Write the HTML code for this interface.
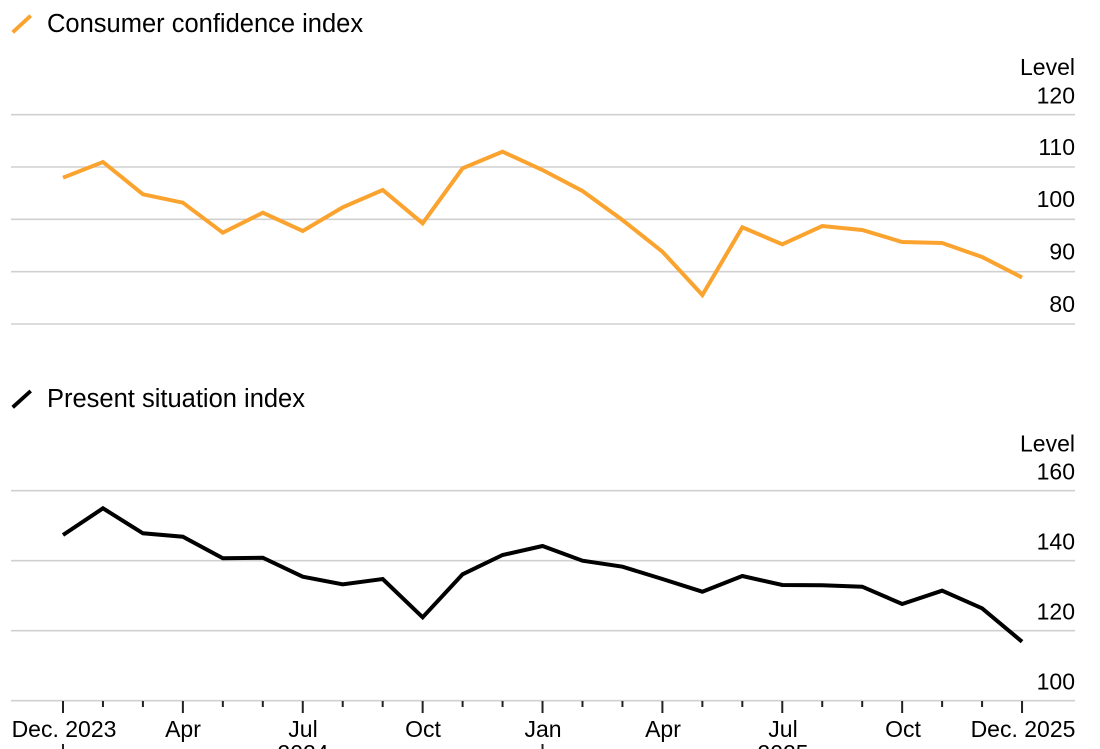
<!DOCTYPE html>
<html><head><meta charset="utf-8"><style>
html,body{margin:0;padding:0;background:#fff;}
svg{display:block;}
text{font-family:"Liberation Sans",Arial,sans-serif;fill:#000;}
</style></head><body>
<svg width="1100" height="749" viewBox="0 0 1100 749" xmlns="http://www.w3.org/2000/svg">
<!-- Top legend -->
<line x1="12.7" y1="32.3" x2="30.7" y2="15.7" stroke="#fba32f" stroke-width="3.8"/>
<text x="47" y="32" font-size="25.5">Consumer confidence index</text>

<!-- Top grid -->
<g stroke="#d0d0d0" stroke-width="1.6">
<line x1="11" y1="114.7" x2="1075" y2="114.7"/>
<line x1="11" y1="167" x2="1075" y2="167"/>
<line x1="11" y1="219.3" x2="1075" y2="219.3"/>
<line x1="11" y1="271.7" x2="1075" y2="271.7"/>
<line x1="11" y1="324" x2="1075" y2="324"/>
</g>
<g font-size="23" text-anchor="end">
<text x="1075" y="75">Level</text>
<text x="1075" y="103.3">120</text>
<text x="1075" y="155">110</text>
<text x="1075" y="207">100</text>
<text x="1075" y="259.5">90</text>
<text x="1075" y="312">80</text>
</g>
<polyline fill="none" stroke="#fba32f" stroke-width="4" stroke-linejoin="miter" stroke-linecap="butt"
points="63,177.7 102.96,162 142.92,194.3 182.88,202.7 222.84,232.7 262.8,212.7 302.76,231 342.72,207.3 382.68,190 422.64,223.3 462.6,168.3 502.56,151.7 542.52,170 582.48,191 622.44,220 662.4,251.7 702.36,295 742.32,227.3 782.28,244.3 822.24,226 862.2,230 902.16,242 942.12,243 982.08,257 1022.04,277.5"/>

<!-- Bottom legend -->
<line x1="12.7" y1="407.3" x2="30.7" y2="391" stroke="#000" stroke-width="3.8"/>
<text x="47" y="407" font-size="25.5">Present situation index</text>

<!-- Bottom grid -->
<g stroke="#d0d0d0" stroke-width="1.6">
<line x1="11" y1="490.7" x2="1075" y2="490.7"/>
<line x1="11" y1="560.7" x2="1075" y2="560.7"/>
<line x1="11" y1="630.7" x2="1075" y2="630.7"/>
<line x1="11" y1="700.7" x2="1075" y2="700.7"/>
</g>
<g font-size="23" text-anchor="end">
<text x="1075" y="451.7">Level</text>
<text x="1075" y="479.3">160</text>
<text x="1075" y="549.3">140</text>
<text x="1075" y="619.3">120</text>
<text x="1075" y="689.3">100</text>
</g>
<polyline fill="none" stroke="#000" stroke-width="4" stroke-linejoin="miter" stroke-linecap="butt"
points="63,535 102.96,508.3 142.92,533.3 182.88,536.7 222.84,558.3 262.8,557.7 302.76,576.7 342.72,584.3 382.68,579 422.64,617.3 462.6,574.3 502.56,555 542.52,546 582.48,560.7 622.44,566.7 662.4,579 702.36,591.7 742.32,576 782.28,585 822.24,585.3 862.2,586.7 902.16,604 942.12,590.7 982.08,608.3 1022.04,641.7"/>

<!-- X ticks -->
<g stroke="#222" stroke-width="2">
<line x1="63" y1="701" x2="63" y2="713"/>
<line x1="102.96" y1="701" x2="102.96" y2="707"/>
<line x1="142.92" y1="701" x2="142.92" y2="707"/>
<line x1="182.88" y1="701" x2="182.88" y2="713"/>
<line x1="222.84" y1="701" x2="222.84" y2="707"/>
<line x1="262.8" y1="701" x2="262.8" y2="707"/>
<line x1="302.76" y1="701" x2="302.76" y2="713"/>
<line x1="342.72" y1="701" x2="342.72" y2="707"/>
<line x1="382.68" y1="701" x2="382.68" y2="707"/>
<line x1="422.64" y1="701" x2="422.64" y2="713"/>
<line x1="462.6" y1="701" x2="462.6" y2="707"/>
<line x1="502.56" y1="701" x2="502.56" y2="707"/>
<line x1="542.52" y1="701" x2="542.52" y2="713"/>
<line x1="582.48" y1="701" x2="582.48" y2="707"/>
<line x1="622.44" y1="701" x2="622.44" y2="707"/>
<line x1="662.4" y1="701" x2="662.4" y2="713"/>
<line x1="702.36" y1="701" x2="702.36" y2="707"/>
<line x1="742.32" y1="701" x2="742.32" y2="707"/>
<line x1="782.28" y1="701" x2="782.28" y2="713"/>
<line x1="822.24" y1="701" x2="822.24" y2="707"/>
<line x1="862.2" y1="701" x2="862.2" y2="707"/>
<line x1="902.16" y1="701" x2="902.16" y2="713"/>
<line x1="942.12" y1="701" x2="942.12" y2="707"/>
<line x1="982.08" y1="701" x2="982.08" y2="707"/>
<line x1="1022.04" y1="701" x2="1022.04" y2="713"/>
<line x1="63" y1="744" x2="63" y2="750"/>
<line x1="542.52" y1="744" x2="542.52" y2="750"/>
</g>
<g font-size="23" text-anchor="middle">
<text x="64" y="737">Dec. 2023</text>
<text x="183" y="737">Apr</text>
<text x="303" y="737">Jul</text>
<text x="423" y="737">Oct</text>
<text x="543" y="737">Jan</text>
<text x="663" y="737">Apr</text>
<text x="783" y="737">Jul</text>
<text x="903" y="737">Oct</text>
<text x="1023" y="737">Dec. 2025</text>
<text x="303" y="761">2024</text>
<text x="783" y="761">2025</text>
</g>
</svg>
</body></html>
